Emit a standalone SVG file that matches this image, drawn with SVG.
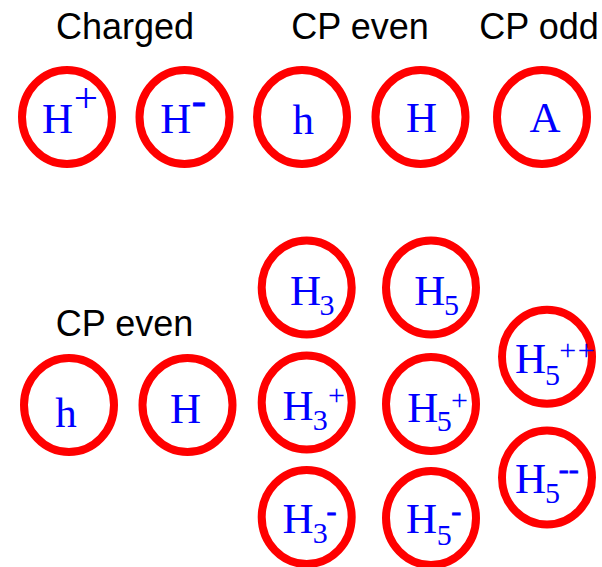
<svg xmlns="http://www.w3.org/2000/svg" width="602" height="567" viewBox="0 0 602 567">
<style>
.ring{fill:none;stroke:#FF0000;stroke-width:8}
.title{font-family:"Liberation Sans",Arial,sans-serif;font-size:36px;fill:#000;text-anchor:middle}
.lab{font-family:"Liberation Serif","Times New Roman",serif;fill:#0000FF;font-size:43px}
.sub{font-family:"Liberation Serif","Times New Roman",serif;fill:#0000FF;font-size:30px}
.dash{stroke:#0000FF;stroke-width:0.8}
</style>
<rect width="602" height="567" fill="#FFFFFF"/>
<g id="titles">
<text class="title" x="125" y="39">Charged</text>
<text class="title" x="360" y="39">CP even</text>
<text class="title" x="539" y="39">CP odd</text>
<text class="title" x="124.5" y="336">CP even</text>
</g>
<g id="connectors"/>
<g id="Hplus">
<ellipse class="ring" cx="67" cy="117" rx="45" ry="47"/>
<text class="lab" x="42" y="133.3">H</text>
<text class="lab" x="73.7" y="111.7" font-size="42">+</text>
</g>
<g id="Hminus">
<ellipse class="ring" cx="184.5" cy="117" rx="45" ry="47"/>
<text class="lab" x="160.3" y="133.3">H</text>
<text class="lab dash" x="191.7" y="114.1" font-size="42">-</text>
</g>
<g id="h_top">
<ellipse class="ring" cx="302" cy="117" rx="45" ry="47"/>
<text class="lab" x="292.5" y="134" font-size="51">h</text>
</g>
<g id="H_top">
<ellipse class="ring" cx="420.5" cy="117" rx="45" ry="47"/>
<text class="lab" x="406" y="131.7">H</text>
</g>
<g id="A">
<ellipse class="ring" cx="542" cy="117" rx="45" ry="47"/>
<text class="lab" x="529.4" y="132.3" font-size="42">A</text>
</g>
<g id="h_bottom">
<ellipse class="ring" cx="69" cy="405" rx="45" ry="47"/>
<text class="lab" x="55.2" y="427.3" font-size="51">h</text>
</g>
<g id="H_bottom">
<ellipse class="ring" cx="187.5" cy="405" rx="45" ry="47"/>
<text class="lab" x="170" y="423.3">H</text>
</g>
<g id="H3">
<ellipse class="ring" cx="306.7" cy="287.5" rx="45" ry="47"/>
<text class="lab" x="290" y="305">H</text>
<text class="sub" x="319.4" y="315.3">3</text>
</g>
<g id="H3plus">
<ellipse class="ring" cx="306.7" cy="402.5" rx="45" ry="47"/>
<text class="lab" x="282.6" y="420">H</text>
<text class="sub" x="312.7" y="429.6">3</text>
<text class="sub" x="328.1" y="405">+</text>
</g>
<g id="H3minus">
<ellipse class="ring" cx="306.7" cy="517" rx="45" ry="47"/>
<text class="lab" x="282.6" y="533.3">H</text>
<text class="sub" x="312.7" y="542.9">3</text>
<text class="sub dash" x="326.6" y="521" font-size="36">-</text>
</g>
<g id="H5">
<ellipse class="ring" cx="431" cy="287.5" rx="45" ry="47"/>
<text class="lab" x="414.3" y="305">H</text>
<text class="sub" x="444.1" y="315.3">5</text>
</g>
<g id="H5plus">
<ellipse class="ring" cx="431" cy="404" rx="45" ry="47"/>
<text class="lab" x="407.3" y="421.7">H</text>
<text class="sub" x="436.8" y="431.3">5</text>
<text class="sub" x="451.1" y="410">+</text>
</g>
<g id="H5minus">
<ellipse class="ring" cx="431" cy="518" rx="45" ry="47"/>
<text class="lab" x="406" y="533">H</text>
<text class="sub" x="436.7" y="544.6">5</text>
<text class="sub dash" x="451.3" y="521" font-size="36">-</text>
</g>
<g id="H5plusplus">
<ellipse class="ring" cx="547" cy="356.7" rx="45" ry="47"/>
<text class="lab" x="515" y="373.3">H</text>
<text class="sub" x="545" y="384.6">5</text>
<text class="sub" x="559.3" y="360" font-size="23" letter-spacing="1.5">++</text>
</g>
<g id="H5minusminus">
<ellipse class="ring" cx="547" cy="477.5" rx="45" ry="47"/>
<text class="lab" x="515" y="493.3">H</text>
<text class="sub" x="545" y="502.9">5</text>
<text class="sub dash" x="558.7" y="478.7" font-size="34">--</text>
</g>
</svg>
